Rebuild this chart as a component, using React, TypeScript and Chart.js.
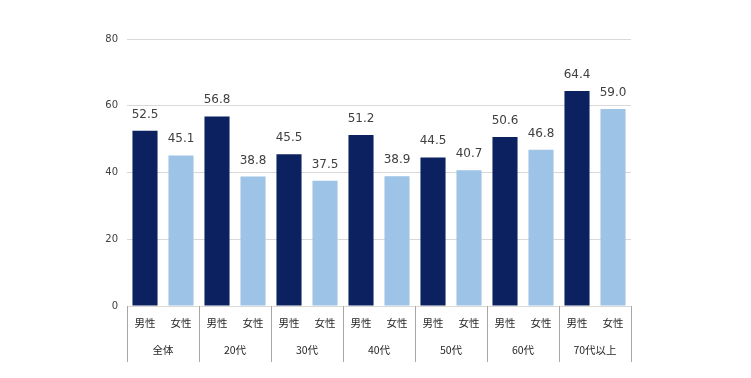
import React, { useEffect, useRef } from "react";
import { Chart, registerables } from "chart.js";

Chart.register(...registerables);

const groups = ["全体", "20代", "30代", "40代", "50代", "60代", "70代以上"];
const genders = ["男性", "女性"];
const maleValues = [52.5, 56.8, 45.5, 51.2, 44.5, 50.6, 64.4];
const femaleValues = [45.1, 38.8, 37.5, 38.9, 40.7, 46.8, 59.0];
const yTicks = [0, 20, 40, 60, 80];

const maleColor = "#0b2160";
const femaleColor = "#9dc3e6";
const numFont = "'DejaVu Sans', Verdana, sans-serif";
const cjkFont = "'Noto Sans CJK JP', sans-serif";

export default function App() {
  const ref = useRef<HTMLCanvasElement | null>(null);
  useEffect(() => {
    if (!ref.current) return;
    const labels: string[] = [];
    const data: number[] = [];
    const colors: string[] = [];
    groups.forEach((g, i) => {
      labels.push(genders[0]);
      data.push(maleValues[i]);
      colors.push(maleColor);
      labels.push(genders[1]);
      data.push(femaleValues[i]);
      colors.push(femaleColor);
    });

    const groupPlugin = {
      id: "groupPlugin",
      afterDraw(chart: any) {
        const ctx = chart.ctx;
        const x = chart.scales.x;
        const area = chart.chartArea;
        ctx.save();
        const meta = chart.getDatasetMeta(0);
        ctx.font = `12px ${numFont}`;
        ctx.fillStyle = "#404040";
        ctx.textAlign = "center";
        ctx.textBaseline = "alphabetic";
        meta.data.forEach((bar: any, i: number) => {
          ctx.fillText(data[i].toFixed(1), bar.x, bar.y - 13);
        });
        ctx.strokeStyle = "#a6a6a6";
        ctx.lineWidth = 1;
        const bounds: number[] = [area.left];
        for (let k = 1; k < groups.length; k++) {
          bounds.push((x.getPixelForValue(2 * k - 1) + x.getPixelForValue(2 * k)) / 2);
        }
        bounds.push(area.right);
        bounds.forEach((b) => {
          const px = Math.round(b) + 0.5;
          ctx.beginPath();
          ctx.moveTo(px, area.bottom);
          ctx.lineTo(px, area.bottom + 56);
          ctx.stroke();
        });
        ctx.font = `10.5px ${cjkFont}`;
        ctx.fillStyle = "#262626";
        ctx.textBaseline = "middle";
        groups.forEach((g, k) => {
          const cx = (x.getPixelForValue(2 * k) + x.getPixelForValue(2 * k + 1)) / 2;
          ctx.fillText(g, cx, area.bottom + 44);
        });
        ctx.restore();
      },
    };

    const chart = new Chart(ref.current, {
      type: "bar",
      data: {
        labels,
        datasets: [
          {
            data,
            backgroundColor: colors,
            barPercentage: 0.86,
            categoryPercentage: 0.81,
          },
        ],
      },
      options: {
        animation: false,
        responsive: false,
        maintainAspectRatio: false,
        layout: { padding: { left: 87, right: 120, top: 39, bottom: 0 } },
        plugins: { legend: { display: false }, tooltip: { enabled: false } },
        scales: {
          x: {
            grid: { display: false },
            border: { display: false },
            ticks: {
              font: { family: cjkFont, size: 10.5 },
              color: "#262626",
              padding: 3,
              maxRotation: 0,
              autoSkip: false,
            },
            afterFit: (s: any) => {
              s.height = 72;
            },
          },
          y: {
            min: 0,
            max: 80,
            afterBuildTicks: (s: any) => {
              s.ticks = yTicks.map((v) => ({ value: v }));
            },
            grid: { color: "#d9d9d9", drawTicks: false },
            border: { display: false },
            ticks: {
              font: { family: numFont, size: 10 },
              color: "#404040",
              padding: 9,
            },
            afterFit: (s: any) => {
              s.width = 40;
            },
          },
        },
      },
      plugins: [groupPlugin],
    });
    return () => chart.destroy();
  }, []);

  return (
    <div style={{ position: "fixed", left: 0, top: 0, width: 751, height: 378, background: "#fff" }}>
      <canvas ref={ref} width={751} height={378} style={{ width: 751, height: 378 }} />
    </div>
  );
}
